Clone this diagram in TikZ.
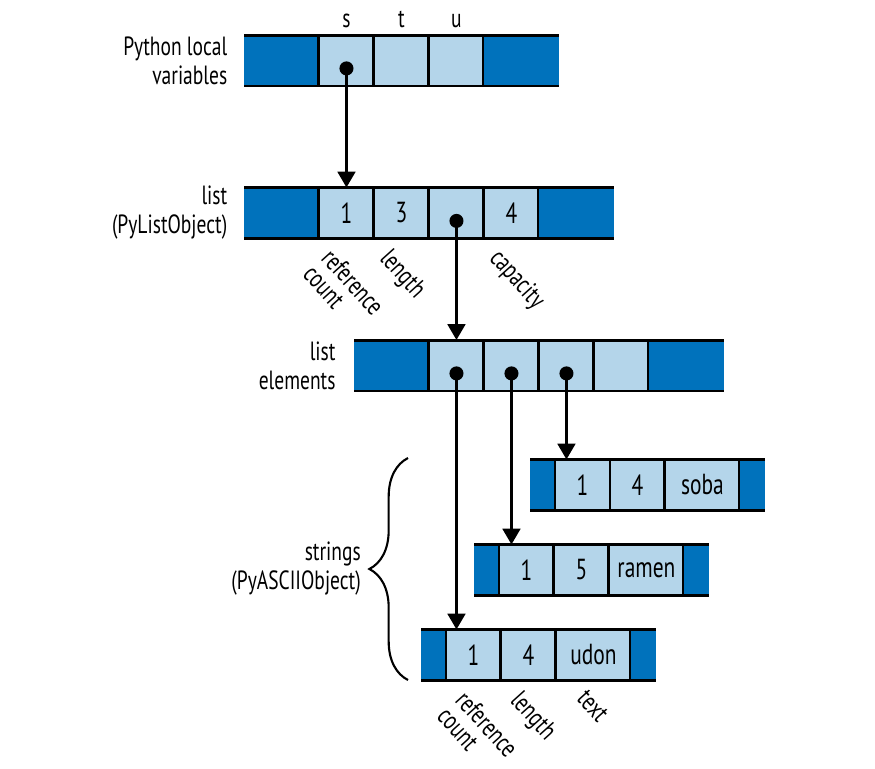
\documentclass[tikz,border=0pt]{standalone}
\usepackage{fontspec}
\setmainfont{PT Sans}[FakeStretch=0.74]
\usepackage{tikz}
\usetikzlibrary{arrows.meta, positioning, decorations.pathreplacing}
\definecolor{DeepBlue} {RGB}{0,  114, 188}
\definecolor{PaleBlue} {RGB}{180, 213, 234}

\begin{document}
\begin{tikzpicture}[x=0.02cm, y=-0.02cm,
  >={Triangle[length=9pt, width=10pt]},
  blk/.style   = {fill=DeepBlue, inner sep=0pt, outer sep=0pt,
                  minimum height=1.02cm},
  wideblk/.style  = {blk, minimum width=1.5cm},
  slimblk/.style  = {blk, minimum width=0.5cm},
  cell/.style  = {draw=black, line width=1.7pt, fill=PaleBlue,
                  inner sep=0pt, outer sep=0pt, minimum width=1.1cm,
                  minimum height=1.02cm, font=\fontsize{16.5}{18}\selectfont},
  txtcell/.style  = {cell, minimum width=1.5cm},
  dot/.style   = {circle, fill=black, inner sep=0pt, minimum size=8pt},
  lbl/.style   = {font=\fontsize{15}{16.5}\selectfont, align=right},
  tilt/.style  = {font=\fontsize{15}{14}\selectfont, align=left,
                  rotate=-48, anchor=north west, inner sep=1pt},
  ptr/.style   = {->, line width=1.7pt},
  rim/.style   = {line width=1.7pt}
]
  \useasboundingbox (0,0) rectangle (875,768);

  %% Python local variables
  \node[wideblk, anchor=west] (vl) at (244,60.5) {};
  \node[cell, right=0pt of vl] (v1) {};
  \node[cell, right=0pt of v1] (v2) {};
  \node[cell, right=0pt of v2] (v3) {};
  \node[wideblk, right=0pt of v3] (vr) {};
  \draw[rim] (vl.north west) -- (vr.north east);
  \draw[rim] (vl.south west) -- (vr.south east);
  \node[lbl, anchor=base] at ([yshift=4pt]v1.north) {s};
  \node[lbl, anchor=base] at ([yshift=4pt]v2.north) {t};
  \node[lbl, anchor=base] at ([yshift=4pt]v3.north) {u};
  \node[lbl, left=6pt of vl] (vlbl) {Python local\\variables};

  %% list (PyListObject)
  \node[wideblk, anchor=west] (ll) at (244,213) {};
  \node[cell, right=0pt of ll] (l1) {1};
  \node[cell, right=0pt of l1] (l2) {3};
  \node[cell, right=0pt of l2] (l3) {};
  \node[cell, right=0pt of l3] (l4) {4};
  \node[wideblk, right=0pt of l4] (lr) {};
  \draw[rim] (ll.north west) -- (lr.north east);
  \draw[rim] (ll.south west) -- (lr.south east);
  \node[lbl, left=6pt of ll] (llbl) {list\\(PyListObject)};
  \node[tilt] at ([xshift=-7pt, yshift=-3pt]l1.south) {reference\\count};
  \node[tilt] at ([xshift=-5pt, yshift=-3pt]l2.south) {length};
  \node[tilt] at ([xshift=-5pt, yshift=-3pt]l4.south) {capacity};

  %% list elements
  \node[wideblk, anchor=west] (el) at (354,365.5) {};
  \node[cell, right=0pt of el] (e1) {};
  \node[cell, right=0pt of e1] (e2) {};
  \node[cell, right=0pt of e2] (e3) {};
  \node[cell, right=0pt of e3] (e4) {};
  \node[wideblk, right=0pt of e4] (er) {};
  \draw[rim] (el.north west) -- (er.north east);
  \draw[rim] (el.south west) -- (er.south east);
  \node[lbl, left=7pt of el] (elbl) {list\\elements};

  %% strings
  \node[slimblk, anchor=west] (sl) at (530,485) {};
  \node[cell, right=0pt of sl] (s1) {1};
  \node[cell, right=0pt of s1] (s2) {4};
  \node[txtcell, right=0pt of s2] (s3) {soba};
  \node[slimblk, right=0pt of s3] (sr) {};
  \draw[rim] (sl.north west) -- (sr.north east);
  \draw[rim] (sl.south west) -- (sr.south east);

  \node[slimblk, anchor=west] (rl) at (474,570) {};
  \node[cell, right=0pt of rl] (r1) {1};
  \node[cell, right=0pt of r1] (r2) {5};
  \node[txtcell, right=0pt of r2] (r3) {ramen};
  \node[slimblk, right=0pt of r3] (rr) {};
  \draw[rim] (rl.north west) -- (rr.north east);
  \draw[rim] (rl.south west) -- (rr.south east);

  \node[slimblk, anchor=west] (ul) at (421,655) {};
  \node[cell, right=0pt of ul] (u1) {1};
  \node[cell, right=0pt of u1] (u2) {4};
  \node[txtcell, right=0pt of u2] (u3) {udon};
  \node[slimblk, right=0pt of u3] (ur) {};
  \draw[rim] (ul.north west) -- (ur.north east);
  \draw[rim] (ul.south west) -- (ur.south east);
  \node[tilt] at ([xshift=-3pt, yshift=-3pt]u1.south) {reference\\count};
  \node[tilt] at ([xshift=-3pt, yshift=-3pt]u2.south) {length};
  \node[tilt] at ([xshift=-3pt, yshift=-3pt]u3.south) {text};

  \draw[line width=1.2pt, decorate, decoration={brace, amplitude=22pt}]
    (408,680) coordinate (bbot) -- (408,458) coordinate (btop);
  \node[lbl, anchor=east] (slbl) at (367,569) {strings\\(PyASCIIObject)};

  %% pointers
  \node[dot] (vd) at ([yshift=-4.5pt]v1.center) {};
  \node[dot] (ld) at ([yshift=-4.5pt]l3.center) {};
  \node[dot] (ed1) at ([yshift=-4.5pt]e1.center) {};
  \node[dot] (ed2) at ([yshift=-4.5pt]e2.center) {};
  \node[dot] (ed3) at ([yshift=-4.5pt]e3.center) {};
  \draw[ptr] (vd.center) -- (vd |- l1.north);
  \draw[ptr] (ld.center) -- (ld |- e1.north);
  \draw[ptr] (ed1.center) -- (ed1 |- u1.north);
  \draw[ptr] (ed2.center) -- (ed2 |- r1.north);
  \draw[ptr] (ed3.center) -- (ed3 |- s1.north);
\end{tikzpicture}
\end{document}
